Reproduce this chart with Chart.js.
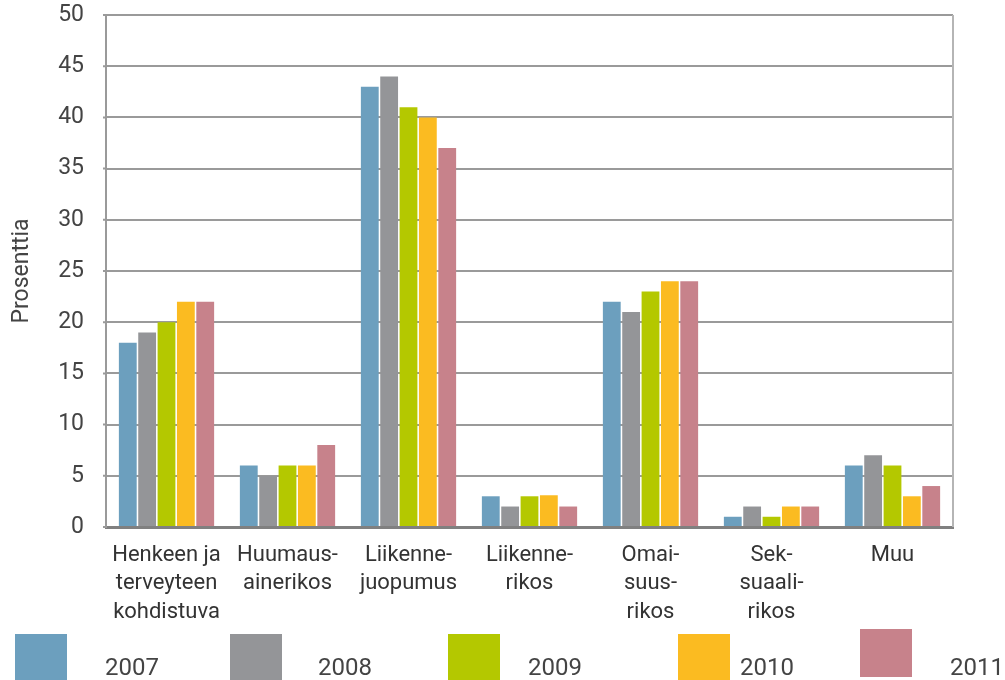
<!DOCTYPE html>
<html>
<head>
<meta charset="utf-8">
<script src="https://cdn.jsdelivr.net/npm/chart.js@4"></script>
<style>
  html, body { margin: 0; padding: 0; background: #fff; }
  #wrap { width: 1005px; height: 680px; position: relative; }
</style>
</head>
<body>
<div id="wrap"><canvas id="rikosChart"></canvas></div>
<script>
const categories = [
    ["Henkeen ja", "terveyteen", "kohdistuva"],
    ["Huumaus-", "ainerikos"],
    ["Liikenne-", "juopumus"],
    ["Liikenne-", "rikos"],
    ["Omai-", "suus-", "rikos"],
    ["Sek-", "suaali-", "rikos"],
    ["Muu"]
];
const years = ["2007", "2008", "2009", "2010", "2011"];
const v2007 = [18, 6, 43, 3, 22, 1, 6];
const v2008 = [19, 5, 44, 2, 21, 2, 7];
const v2009 = [20, 6, 41, 3, 23, 1, 6];
const v2010 = [22, 6, 40, 3.1, 24, 2, 3];
const v2011 = [22, 8, 37, 2, 24, 2, 4];
const colors = ["#6c9fbe", "#949598", "#b4c800", "#fbbb21", "#c7828b"];
const yTicks = [0, 5, 10, 15, 20, 25, 30, 35, 40, 45, 50];

const FONT = "Roboto, 'Liberation Sans', sans-serif";
const seriesValues = [v2007, v2008, v2009, v2010, v2011];

// right border, short tick stubs + custom legend (boxes with year text to the lower right)
const extras = {
    id: "extras",
    afterDraw(chart) {
        const ctx = chart.ctx;
        const a = chart.chartArea;
        const y = chart.scales.y;
        ctx.save();
        ctx.strokeStyle = "#b5b5b5";
        ctx.lineWidth = 2;
        ctx.beginPath();
        ctx.moveTo(a.right, a.top);
        ctx.lineTo(a.right, a.bottom);
        ctx.stroke();

        ctx.strokeStyle = "#9a9a9a";
        ctx.beginPath();
        yTicks.forEach(v => {
            const py = y.getPixelForValue(v);
            ctx.moveTo(a.left - 3, py);
            ctx.lineTo(a.left, py);
        });
        ctx.stroke();

        const boxX = [15, 230, 448, 678, 860];
        const boxY = [634, 634, 634, 634, 629];
        const textX = [105, 318, 528, 740, 950];
        ctx.font = "24px " + FONT;
        ctx.textBaseline = "alphabetic";
        ctx.textAlign = "left";
        chart.data.datasets.forEach((ds, i) => {
            ctx.fillStyle = ds.backgroundColor;
            ctx.fillRect(boxX[i], boxY[i], 52, 48);
            ctx.fillStyle = "#444";
            ctx.fillText(ds.label, textX[i], 675);
        });
        ctx.restore();
    }
};

new Chart(document.getElementById("rikosChart"), {
    type: "bar",
    data: {
        labels: categories,
        datasets: years.map((y, i) => ({
            label: y,
            data: seriesValues[i],
            backgroundColor: colors[i],
            categoryPercentage: 0.8,
            barPercentage: 0.92
        }))
    },
    options: {
        responsive: true,
        maintainAspectRatio: false,
        animation: false,
        layout: { padding: { top: 15, right: 52, bottom: 55, left: 0 } },
        plugins: {
            legend: { display: false },
            tooltip: { enabled: false }
        },
        scales: {
            x: {
                grid: { display: false },
                border: { color: "#808080", width: 3 },
                ticks: {
                    color: "#333",
                    font: { family: FONT, size: 22, lineHeight: 1.3 },
                    maxRotation: 0,
                    autoSkip: false,
                    padding: 6
                },
                afterFit(scale) { scale.height = 98; }
            },
            y: {
                min: 0,
                max: 50,
                afterBuildTicks(scale) { scale.ticks = yTicks.map(v => ({ value: v })); },
                grid: { color: "#9a9a9a", lineWidth: 2, tickLength: 22, tickColor: "rgba(0,0,0,0)" },
                border: { color: "#9a9a9a", width: 2 },
                ticks: {
                    color: "#444",
                    font: { family: FONT, size: 23 },
                    padding: 0
                },
                title: {
                    display: true,
                    text: "Prosenttia",
                    color: "#444",
                    font: { family: FONT, size: 23 },
                    padding: { top: 8, bottom: 0 }
                },
                afterFit(scale) { scale.width = 106; }
            }
        }
    },
    plugins: [extras]
});
</script>
</body>
</html>
